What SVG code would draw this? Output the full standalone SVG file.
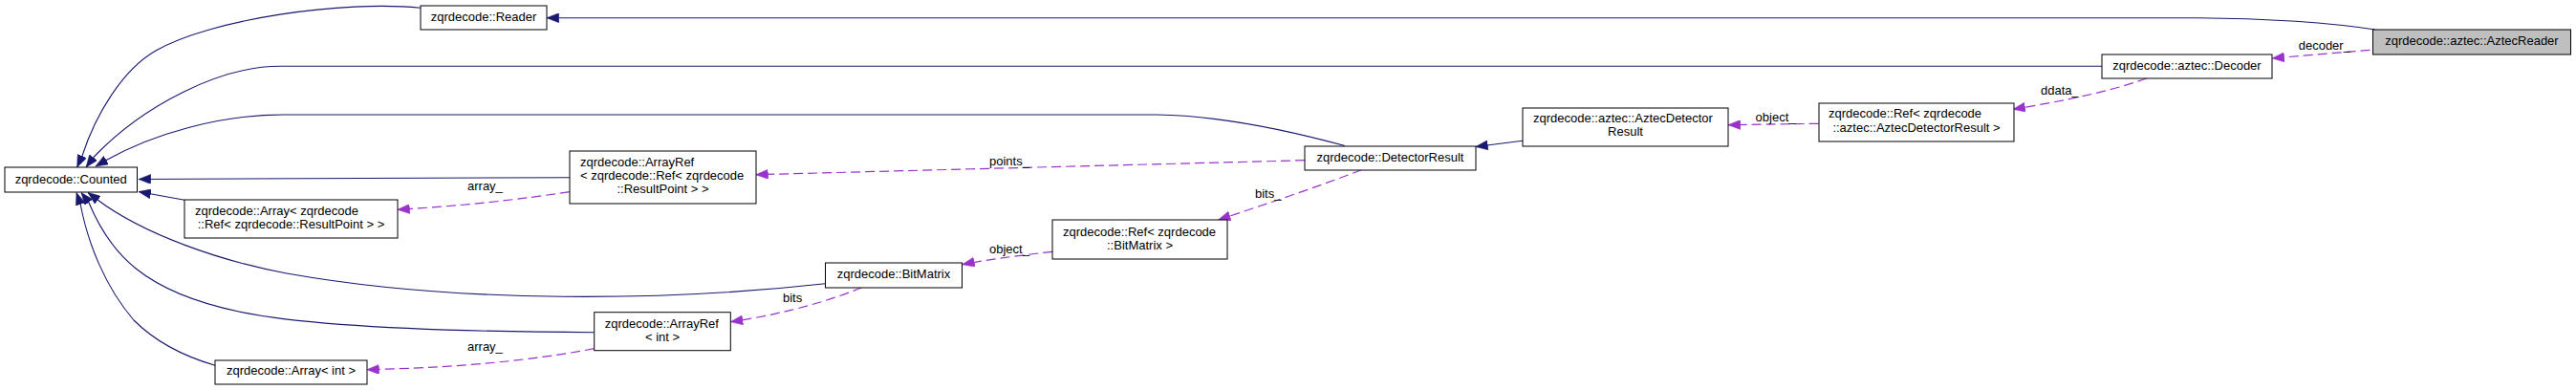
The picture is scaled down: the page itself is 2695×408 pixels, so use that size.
<svg xmlns="http://www.w3.org/2000/svg" width="2695" height="408" viewBox="0 0 2695 408">
<style>
.n rect{fill:#fff;stroke:#000;stroke-width:1}
.n.hl rect{fill:#bfbfbf}
text{font-family:"Liberation Sans",Arial,sans-serif;font-size:13px;fill:#000}
.c{text-anchor:middle}
.inh{fill:none;stroke:#191970;stroke-width:1.1;marker-end:url(#ab)}
.use{fill:none;stroke:#9a32cd;stroke-width:1.2;stroke-dasharray:10,5;marker-end:url(#ap)}
</style>
<defs>
<marker id="ab" markerUnits="userSpaceOnUse" markerWidth="13" markerHeight="10" viewBox="0 0 12 9.4" refX="12" refY="4.7" orient="auto"><path d="M0,0L12,4.7L0,9.4z" fill="#191970" stroke="#191970" stroke-width="0.5"/></marker>
<marker id="ap" markerUnits="userSpaceOnUse" markerWidth="13" markerHeight="10" viewBox="0 0 12 9.4" refX="12" refY="4.7" orient="auto"><path d="M0,0L12,4.7L0,9.4z" fill="#9a32cd" stroke="#9a32cd" stroke-width="0.5"/></marker>
</defs>
<rect width="2695" height="408" fill="#fff"/>
<g id="edges">
<path class="inh" d="M440,8.3C360,0 220,20 163,53C128,73 100,120 86,163L80.7,175"/>
<path class="inh" d="M2199,69.3L293,69.3C230,69.3 150,110 98.3,164L90,175"/>
<path class="inh" d="M1407,152.5C1350,137 1280,121 1210,120L296,120C230,120 160,140 111.7,167.3L100,174"/>
<path class="inh" d="M596,185.7L145,187.5"/>
<path class="inh" d="M193,209.3L145,200.5"/>
<path class="inh" d="M863.3,296.7C700,315 480,318 300,286C230,273 150,245 102,209L92,201.5"/>
<path class="inh" d="M621.7,347.7C480,347 330,343 250,326C150,305 115,265 93,212L85,201.5"/>
<path class="inh" d="M225,382.3C190,372 160,355 140,335C110,300 92,255 84,213L80,201.5"/>
<path class="inh" d="M2485,31C2440,24 2370,18.7 2300,18.7L572,18.7"/>
<path class="inh" d="M1593,147.3L1543.8,153.5"/>
<path class="use" d="M2479.5,52.3L2377,61"/>
<text x="2404.7" y="51.7">decoder_</text>
<path class="use" d="M2246,82C2200,98 2150,107 2106,114.3"/>
<text x="2135" y="99">ddata_</text>
<path class="use" d="M1902.6,129.3L1808,130.7"/>
<text x="1836.6" y="126.7">object_</text>
<path class="use" d="M1365,167.7L790.7,182.7"/>
<text x="1035" y="172.5">points_</text>
<path class="use" d="M1424.4,177.7C1380,195 1320,215 1274.5,230"/>
<text x="1313" y="206.7">bits_</text>
<path class="use" d="M1101.2,263.3C1060,268 1030,272 1006.7,276.7"/>
<text x="1035" y="264.5">object_</text>
<path class="use" d="M901.7,300.7C860,318 810,330 764.3,336.7"/>
<text x="819" y="316">bits</text>
<path class="use" d="M596,200.7C520,212 470,216 415.8,219.3"/>
<text x="489" y="199">array_</text>
<path class="use" d="M621.7,364.7C540,380 460,385 383.7,386.7"/>
<text x="489" y="367">array_</text>
</g>
<g id="n_counted" class="n"><rect x="5" y="175" width="138.5" height="26"/><text class="c" x="74.2" y="191.5">zqrdecode::Counted</text></g>
<g id="n_reader" class="n"><rect x="440" y="6" width="132" height="25"/><text class="c" x="506" y="22">zqrdecode::Reader</text></g>
<g id="n_aztecreader" class="n hl"><rect x="2482.5" y="31" width="207" height="26"/><text class="c" x="2586" y="47">zqrdecode::aztec::AztecReader</text></g>
<g id="n_decoder" class="n"><rect x="2199" y="57" width="178" height="25"/><text class="c" x="2288" y="72.7">zqrdecode::aztec::Decoder</text></g>
<g id="n_detectorresult" class="n"><rect x="1365" y="153" width="179" height="25"/><text class="c" x="1454.5" y="169">zqrdecode::DetectorResult</text></g>
<g id="n_aztecdetectorresult" class="n"><rect x="1593" y="113" width="215" height="40"/><text x="1604" y="128.3">zqrdecode::aztec::AztecDetector</text><text class="c" x="1700.5" y="142.3">Result</text></g>
<g id="n_ref_adr" class="n"><rect x="1903" y="108" width="204" height="40"/><text x="1913" y="123.3">zqrdecode::Ref&lt; zqrdecode</text><text class="c" x="2005" y="137.7">::aztec::AztecDetectorResult &gt;</text></g>
<g id="n_arrayref_rp" class="n"><rect x="596" y="158" width="195" height="55"/><text x="607" y="174">zqrdecode::ArrayRef</text><text x="607" y="188.3">&lt; zqrdecode::Ref&lt; zqrdecode</text><text class="c" x="693.5" y="202.3">::ResultPoint &gt; &gt;</text></g>
<g id="n_array_rp" class="n"><rect x="193" y="209" width="223" height="40"/><text x="204" y="225">zqrdecode::Array&lt; zqrdecode</text><text class="c" x="304.5" y="239.3">::Ref&lt; zqrdecode::ResultPoint &gt; &gt;</text></g>
<g id="n_bitmatrix" class="n"><rect x="863.5" y="275" width="143" height="26"/><text class="c" x="935" y="291">zqrdecode::BitMatrix</text></g>
<g id="n_ref_bitmatrix" class="n"><rect x="1101" y="230" width="183" height="41"/><text x="1112" y="247.3">zqrdecode::Ref&lt; zqrdecode</text><text class="c" x="1192.5" y="260.7">::BitMatrix &gt;</text></g>
<g id="n_arrayref_int" class="n"><rect x="621.7" y="326.7" width="142.6" height="40"/><text x="632.7" y="343.3">zqrdecode::ArrayRef</text><text class="c" x="693" y="356.7">&lt; int &gt;</text></g>
<g id="n_array_int" class="n"><rect x="225" y="377" width="159" height="25"/><text class="c" x="304.5" y="392.3">zqrdecode::Array&lt; int &gt;</text></g>
</svg>
